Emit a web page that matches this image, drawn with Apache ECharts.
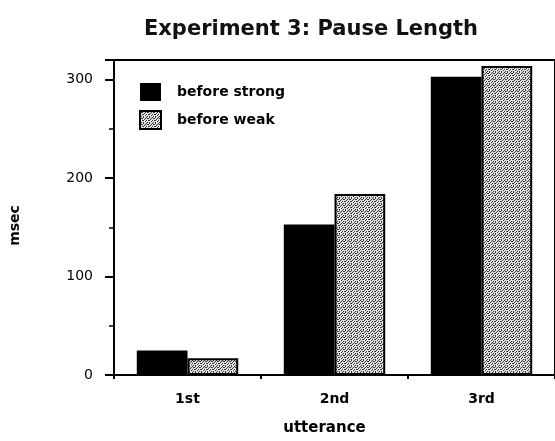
<!DOCTYPE html>
<html>
<head>
<meta charset="utf-8">
<script src="https://cdn.jsdelivr.net/npm/echarts@6/dist/echarts.min.js"></script>
<style>html,body{margin:0;padding:0;background:#fff}#c{width:555px;height:441px}</style>
</head>
<body>
<div id="c"></div>
<script>
var categories = ['1st', '2nd', '3rd'];
var beforeStrong = [25, 153, 303];
var beforeWeak = [17, 184, 314];
var yTicks = [0, 100, 200, 300];

function makePattern() {
  var cv = document.createElement('canvas');
  cv.width = 6; cv.height = 6;
  var ctx = cv.getContext('2d');
  ctx.fillStyle = '#dcdcdc';
  ctx.fillRect(0, 0, 6, 6);
  var dark = [[0,0],[3,0],[1,1],[4,2],[0,3],[2,3],[5,4],[1,5],[3,5],[2,1],[5,1],[3,3]];
  ctx.fillStyle = '#3a3a3a';
  dark.forEach(function (p) { ctx.fillRect(p[0], p[1], 1, 1); });
  ctx.fillStyle = '#f6f6f6';
  [[1,3],[4,4],[2,0],[5,3]].forEach(function (p) { ctx.fillRect(p[0], p[1], 1, 1); });
  return cv;
}
var pat = makePattern();

var chart = echarts.init(document.getElementById('c'), null, {renderer: 'canvas'});
var font = 'DejaVu Sans, sans-serif';
chart.setOption({
  animation: false,
  backgroundColor: '#fff',
  title: {
    text: 'Experiment 3: Pause Length',
    left: 306, top: 14, textAlign: 'center',
    textStyle: {fontFamily: font, fontSize: 21, fontWeight: 'bold', color: '#111'}
  },
  legend: {
    orient: 'vertical', left: 134, top: 78,
    itemWidth: 21, itemHeight: 18, itemGap: 9,
    textStyle: {fontFamily: font, fontSize: 14, fontWeight: 'bold', color: '#000', padding: [0, 0, 0, 11]},
    data: [
      {name: 'before strong', icon: 'rect'},
      {name: 'before weak', icon: 'rect'}
    ]
  },
  grid: {
    left: 112, top: 60, width: 448, bottom: 66,
    show: true, borderColor: '#000', borderWidth: 2, backgroundColor: 'transparent'
  },
  xAxis: {
    type: 'category', data: categories,
    name: 'utterance', nameLocation: 'middle', nameGap: 46,
    nameTextStyle: {fontFamily: font, fontSize: 15, fontWeight: 'bold', color: '#000', padding: [0, 20, 0, 0]},
    axisLine: {lineStyle: {color: '#000', width: 2}},
    axisTick: {show: true, length: 4, lineStyle: {color: '#000', width: 2}},
    axisLabel: {fontFamily: font, fontSize: 14, fontWeight: 'bold', color: '#000', margin: 17}
  },
  yAxis: {
    type: 'value', min: 0, max: 320, interval: 100,
    name: 'msec', nameLocation: 'middle', nameGap: 92, nameRotate: 90,
    nameTextStyle: {fontFamily: font, fontSize: 14, fontWeight: 'bold', color: '#000', padding: [0, 16, 0, 0]},
    axisLine: {show: true, lineStyle: {color: '#000', width: 2}},
    axisTick: {show: true, length: 9, lineStyle: {color: '#000', width: 2}},
    minorTick: {show: true, splitNumber: 2, length: 5, lineStyle: {color: '#000', width: 1.5}},
    splitLine: {show: false},
    axisLabel: {
      fontFamily: font, fontSize: 14, color: '#000', margin: 21,
      showMaxLabel: false,
      formatter: function (v) { return yTicks.indexOf(v) >= 0 ? String(v) : ''; }
    }
  },
  series: [
    {
      name: 'before strong', type: 'bar', data: beforeStrong,
      barGap: '0%', barCategoryGap: '31%',
      itemStyle: {color: '#000'}
    },
    {
      name: 'before weak', type: 'bar', data: beforeWeak,
      itemStyle: {color: {image: pat, repeat: 'repeat'}, borderColor: '#000', borderWidth: 2}
    }
  ]
});
</script>
</body>
</html>
